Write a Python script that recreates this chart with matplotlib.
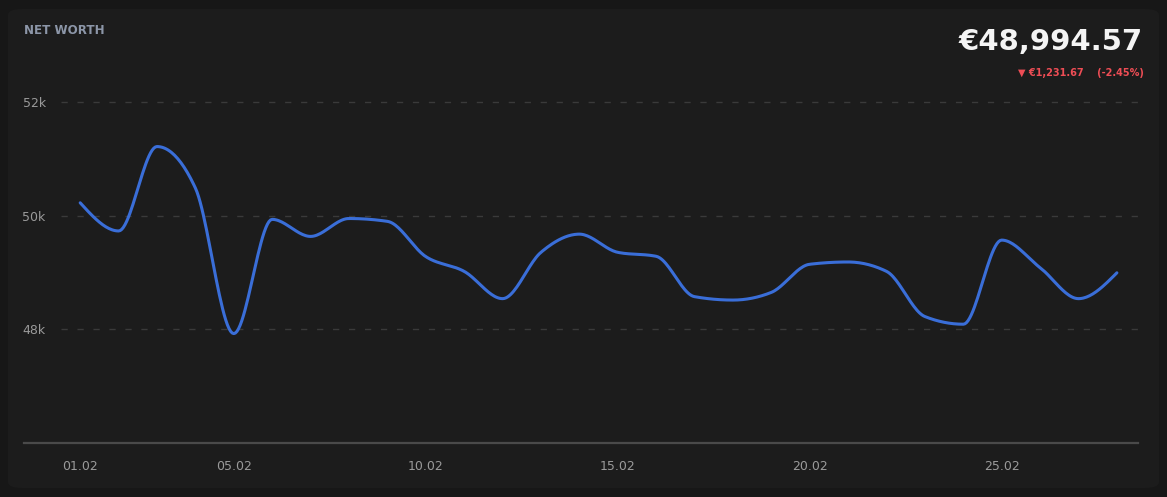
import numpy as np
import matplotlib
matplotlib.use("Agg")
import matplotlib.pyplot as plt
from matplotlib.patches import FancyBboxPatch
from matplotlib.lines import Line2D

# Données
days = list(range(1, 29))
net_worth = [50226.24, 49731, 51216, 50486, 47925, 49935, 49635, 49950, 49900, 49280,
             49020, 48540, 49355, 49675, 49355, 49285, 48575, 48515, 48650, 49145,
             49185, 49020, 48225, 48090, 49570, 49085, 48540, 48994.57]
tick_days = [1, 5, 10, 15, 20, 25]
tick_labels = ["01.02", "05.02", "10.02", "15.02", "20.02", "25.02"]
y_ticks = [48000, 50000, 52000]
y_labels = ["48k", "50k", "52k"]
title = "NET WORTH"
total = "€48,994.57"
change = "▼ €1,231.67    (-2.45%)"

BG = "#171717"
PANEL = "#1c1c1c"
LINE = "#3a6ed8"
GRID = "#3a3a3a"
TXT = "#9a9a9a"
RED = "#ee4d55"


def monotone_curve(x, y, n=24):
    # courbe monotone (type d3 curveMonotoneX)
    x = np.asarray(x, float)
    y = np.asarray(y, float)
    h = np.diff(x)
    s = np.diff(y) / h
    m = np.zeros_like(y)
    for i in range(1, len(y) - 1):
        p = (s[i - 1] * h[i] + s[i] * h[i - 1]) / (h[i - 1] + h[i])
        m[i] = (np.sign(s[i - 1]) + np.sign(s[i])) * min(abs(s[i - 1]), abs(s[i]), 0.5 * abs(p))
    m[0] = (3 * s[0] - m[1]) / 2
    m[-1] = (3 * s[-1] - m[-2]) / 2
    xs, ys = [], []
    for i in range(len(h)):
        t = np.linspace(0, 1, n, endpoint=False)
        h00 = 2 * t**3 - 3 * t**2 + 1
        h10 = t**3 - 2 * t**2 + t
        h01 = -2 * t**3 + 3 * t**2
        h11 = t**3 - t**2
        xs.append(x[i] + t * h[i])
        ys.append(h00 * y[i] + h10 * h[i] * m[i] + h01 * y[i + 1] + h11 * h[i] * m[i + 1])
    xs.append([x[-1]])
    ys.append([y[-1]])
    return np.concatenate(xs), np.concatenate(ys)


W, H = 1167, 497
fig = plt.figure(figsize=(W / 100, H / 100), dpi=100, facecolor=BG)

# panneau arrondi
panel = FancyBboxPatch((8 / W, 9 / H), 1151 / W, 479 / H,
                       boxstyle="round,pad=0,rounding_size=0.012",
                       transform=fig.transFigure, facecolor=PANEL, edgecolor="none",
                       zorder=0)
fig.add_artist(panel)

left, right = 61, 1138
top, bottom = 102, 443
ax = fig.add_axes([left / W, 1 - bottom / H, (right - left) / W, (bottom - top) / H])
ax.set_facecolor("none")

cx, cy = monotone_curve(days, net_worth)
ax.plot(cx, cy, color=LINE, lw=2.2, solid_capstyle="round", zorder=3)

ax.set_xlim(0.5, 28.55)
ax.set_ylim(46000, 52000)
ax.set_xticks(tick_days)
ax.set_xticklabels(tick_labels)
ax.set_yticks(y_ticks)
ax.set_yticklabels(y_labels)
ax.tick_params(axis="both", length=0, colors=TXT, labelsize=9)
ax.tick_params(axis="x", pad=12)
ax.tick_params(axis="y", pad=11)
for yv in y_ticks:
    ax.axhline(yv, color=GRID, lw=1, dashes=(4.5, 7), zorder=1, clip_on=False)
for sp in ax.spines.values():
    sp.set_visible(False)

# ligne de l'axe x, plus large que la zone de tracé
fig.add_artist(Line2D([24 / W, 1138 / W], [1 - 443 / H, 1 - 443 / H],
                      transform=fig.transFigure, color="#4a4a4a", lw=1.6))

fig.text(24 / W, 1 - 30 / H, title, color="#8c96a8", fontsize=8.6, fontweight="bold",
         ha="left", va="center")
fig.text(1143 / W, 1 - 42 / H, total, color="#f4f4f4", fontsize=21, fontweight="heavy",
         ha="right", va="center")
fig.text(1144 / W, 1 - 73 / H, change, color=RED, fontsize=7, fontweight="bold",
         ha="right", va="center")

fig.savefig("out.png", dpi=100, facecolor=BG)
